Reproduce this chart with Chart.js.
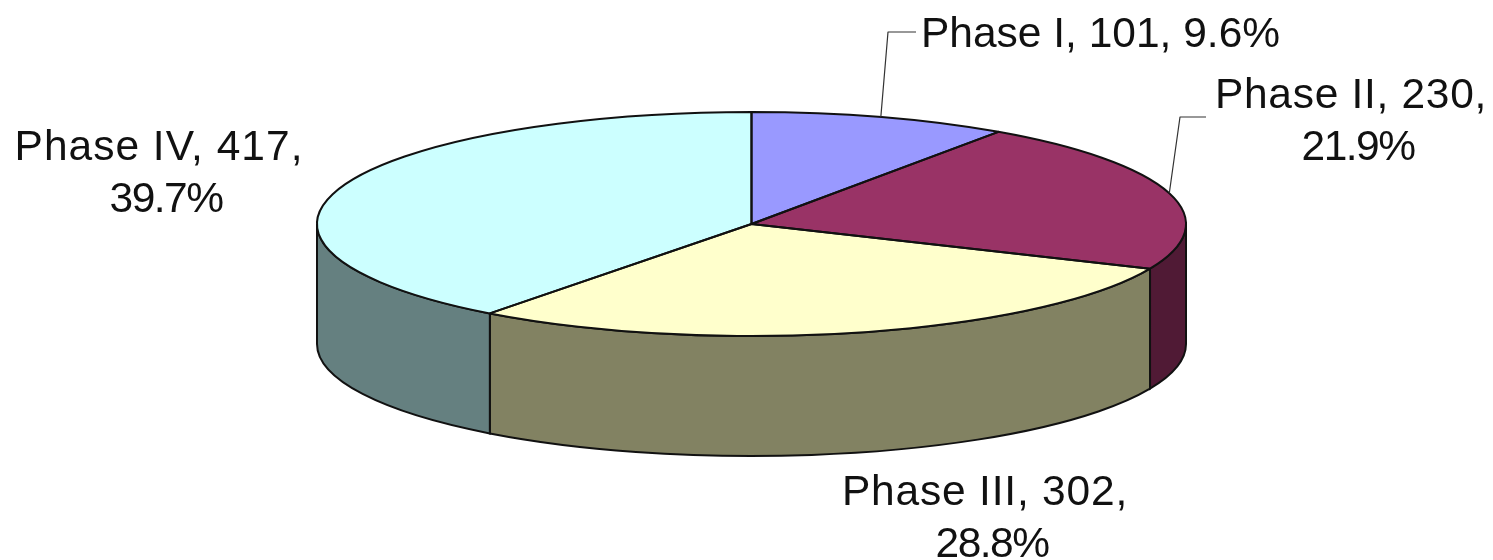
<!DOCTYPE html>
<html>
<head>
<meta charset="utf-8">
<title>Phases</title>
<script src="https://cdn.jsdelivr.net/npm/chart.js@4"></script>
<style>
  html, body { margin: 0; padding: 0; background: #fff; }
  canvas { display: block; }
</style>
</head>
<body>
<canvas id="phaseChart" width="1493" height="560"></canvas>
<script>
const categories = ["Phase I", "Phase II", "Phase III", "Phase IV"];
const counts = [101, 230, 302, 417];
const topColors = ["#9999ff", "#993366", "#ffffcc", "#ccffff"];
const sideColors = ["#4d4d80", "#501a35", "#828262", "#658080"];

// projected disc: centre, radii and wall height in pixels
const disc = { x: 751.5, y: 224, rx: 434.5, ry: 112, depth: 120 };
const LINE = "#111";
const total = counts.reduce((a, b) => a + b, 0);
const percent = (i) => ((counts[i] / total) * 100).toFixed(1) + "%";

// centre x / baseline y per line of text, with optional leader elbow
const labelLayout = [
  { lines: (i) => [`${categories[i]}, ${counts[i]}, ${percent(i)}`], x: 1100.5, y: 47, tracking: 0, elbow: [888, 32], end: [916, 32] },
  { lines: (i) => [`${categories[i]}, ${counts[i]},`, percent(i)], x: 1351, y: 108, tracking: 0.7, elbow: [1180, 117], end: [1206, 117] },
  { lines: (i) => [`${categories[i]}, ${counts[i]},`, percent(i)], x: 985, y: 505, tracking: 0.8 },
  { lines: (i) => [`${categories[i]}, ${counts[i]},`, percent(i)], x: 159, y: 160, tracking: 1 },
];
// the wrapped line sits a little right of the line above it and is set tighter
const SECOND_LINE_SHIFT = 7;
const SECOND_LINE_TRACKING = -1.5;
const LINE_HEIGHT = 52;

const TWO_PI = Math.PI * 2;

// the part of a slice that faces the viewer, i.e. lies in the lower half
function frontRange(arc) {
  let a = arc.startAngle, b = arc.endAngle;
  while (a < 0 && b <= 0) { a += TWO_PI; b += TWO_PI; }
  const from = Math.max(a, 0), to = Math.min(b, Math.PI);
  return to > from ? [from, to] : null;
}

function drawWalls(ctx, arcs) {
  ctx.lineWidth = 2;
  ctx.strokeStyle = LINE;
  arcs.forEach((arc, i) => {
    const range = frontRange(arc);
    if (!range) return;
    ctx.beginPath();
    ctx.ellipse(disc.x, disc.y, disc.rx, disc.ry, 0, range[0], range[1]);
    ctx.ellipse(disc.x, disc.y + disc.depth, disc.rx, disc.ry, 0, range[1], range[0], true);
    ctx.closePath();
    ctx.fillStyle = sideColors[i];
    ctx.fill();
    ctx.stroke();
  });
}

// chart.js border would get squashed by the flattening, so outlines go on afterwards
function drawOutlines(ctx, arcs) {
  ctx.lineWidth = 2;
  ctx.strokeStyle = LINE;
  ctx.lineJoin = "round";
  arcs.forEach((arc) => {
    ctx.beginPath();
    ctx.moveTo(disc.x, disc.y);
    ctx.ellipse(disc.x, disc.y, disc.rx, disc.ry, 0, arc.startAngle, arc.endAngle);
    ctx.closePath();
    ctx.stroke();
  });
}

function drawLabels(ctx, arcs) {
  ctx.font = '42.5px "Liberation Sans"';
  ctx.fillStyle = "#111";
  ctx.textAlign = "center";
  ctx.textBaseline = "alphabetic";
  labelLayout.forEach((label, i) => {
    label.lines(i).forEach((text, n) => {
      ctx.letterSpacing = (n ? SECOND_LINE_TRACKING : label.tracking) + "px";
      ctx.fillText(text, label.x + n * SECOND_LINE_SHIFT, label.y + n * LINE_HEIGHT);
    });
    if (!label.elbow) return;
    const mid = (arcs[i].startAngle + arcs[i].endAngle) / 2;
    ctx.beginPath();
    ctx.moveTo(disc.x + disc.rx * Math.cos(mid), disc.y + disc.ry * Math.sin(mid));
    ctx.lineTo(label.elbow[0], label.elbow[1]);
    ctx.lineTo(label.end[0], label.end[1]);
    ctx.lineWidth = 1.2;
    ctx.strokeStyle = "#333";
    ctx.stroke();
  });
}

const tiltedDisc = {
  id: "tiltedDisc",
  beforeDatasetsDraw(chart) {
    const ctx = chart.ctx;
    const arcs = chart.getDatasetMeta(0).data;
    drawWalls(ctx, arcs);
    const { x, y, outerRadius } = arcs[0];
    ctx.save();
    ctx.translate(disc.x, disc.y);
    ctx.scale(disc.rx / outerRadius, disc.ry / outerRadius);
    ctx.translate(-x, -y);
  },
  afterDatasetsDraw(chart) {
    const ctx = chart.ctx;
    const arcs = chart.getDatasetMeta(0).data;
    ctx.restore();
    drawOutlines(ctx, arcs);
    drawLabels(ctx, arcs);
  },
};

new Chart(document.getElementById("phaseChart"), {
  type: "pie",
  data: {
    labels: categories,
    datasets: [{
      data: counts,
      backgroundColor: topColors,
      borderWidth: 0,
      clip: false,
    }],
  },
  options: {
    responsive: false,
    animation: false,
    plugins: {
      legend: { display: false },
      tooltip: { enabled: false },
    },
  },
  plugins: [tiltedDisc],
});
</script>
</body>
</html>
